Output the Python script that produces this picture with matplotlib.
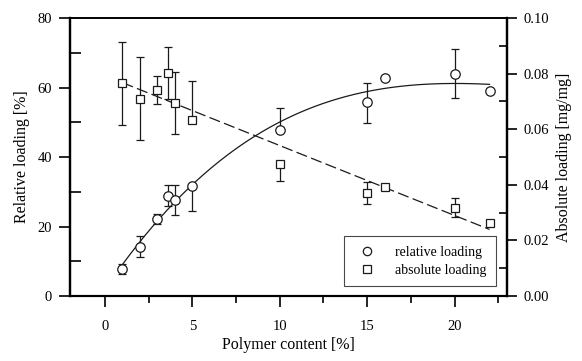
import numpy as np
import matplotlib
matplotlib.use("Agg")
import matplotlib.pyplot as plt
from matplotlib.ticker import MultipleLocator, FormatStrFormatter
from matplotlib.lines import Line2D

plt.rcParams['font.family'] = ['Liberation Serif', 'DejaVu Serif']

# Relative loading (left axis, %)
rel_x = [1, 2, 3, 3.6, 4, 5, 10, 15, 16, 20, 22]
rel_y = [7.7, 14.2, 22.1, 28.8, 27.6, 31.6, 47.9, 55.7, 62.7, 63.9, 58.9]
rel_err_lo = [1.5, 3.0, 1.5, 3.0, 4.2, 7.0, 0.0, 5.8, 0.0, 7.0, 0.0]
rel_err_hi = [1.5, 3.0, 1.5, 3.2, 4.4, 0.0, 6.2, 5.7, 0.0, 7.1, 0.0]

# Absolute loading (right axis, mg/mg)
abs_x = [1, 2, 3, 3.6, 4, 5, 10, 15, 16, 20, 22]
abs_y = [0.0765, 0.0710, 0.0742, 0.0801, 0.0693, 0.0633, 0.0476, 0.0369, 0.0393, 0.0318, 0.0264]
abs_err_lo = [0.0150, 0.0150, 0.0053, 0.0094, 0.0112, 0.0, 0.0061, 0.0039, 0.0, 0.0035, 0.0]
abs_err_hi = [0.0150, 0.0151, 0.0050, 0.0093, 0.0112, 0.0142, 0.0, 0.0041, 0.0, 0.0036, 0.0]

legend_labels = ['relative loading', 'absolute loading']

fig = plt.figure(figsize=(5.82, 3.61), dpi=100)
ax = fig.add_axes([70/582, 1-296/361, (507-70)/582, (296-18)/361])
ax2 = ax.twinx()

ink = '#1a1a1a'

# fits
xf = np.linspace(min(rel_x), max(rel_x), 200)
prel = np.polyfit(rel_x, rel_y, 3)
ax.plot(xf, np.polyval(prel, xf), color=ink, lw=0.9, zorder=2)
pabs = np.polyfit(abs_x, abs_y, 1)
ax2.plot(xf, np.polyval(pabs, xf), color=ink, lw=0.9, ls=(0, (9, 3.5)), zorder=2)

ax.errorbar(rel_x, rel_y, yerr=[rel_err_lo, rel_err_hi], fmt='o', ms=6.8,
            mfc='white', mec=ink, mew=0.9, ecolor=ink, elinewidth=0.9,
            capsize=3.2, capthick=0.9, zorder=3)
ax2.errorbar(abs_x, abs_y, yerr=[abs_err_lo, abs_err_hi], fmt='s', ms=6.0,
             mfc='white', mec=ink, mew=0.9, ecolor=ink, elinewidth=0.9,
             capsize=3.2, capthick=0.9, zorder=3)

ax.set_xlim(-2, 23)
ax.set_ylim(0, 80)
ax2.set_ylim(0, 0.10)

ax.xaxis.set_major_locator(MultipleLocator(5))
ax.xaxis.set_minor_locator(MultipleLocator(2.5))
ax.yaxis.set_major_locator(MultipleLocator(20))
ax.yaxis.set_minor_locator(MultipleLocator(10))
ax2.yaxis.set_major_locator(MultipleLocator(0.02))
ax2.yaxis.set_minor_locator(MultipleLocator(0.01))
ax2.yaxis.set_major_formatter(FormatStrFormatter('%.2f'))

ax.tick_params(axis='x', which='major', direction='out', length=8, width=1.2, labelsize=10.5, pad=9)
ax.tick_params(axis='x', which='minor', direction='out', length=5, width=1.2)
ax.tick_params(axis='y', which='major', direction='out', length=8, width=1.2, labelsize=10.5, pad=5)
ax.tick_params(axis='y', which='minor', direction='in', length=8, width=1.2)
ax2.tick_params(axis='y', which='major', direction='out', length=7, width=1.2, labelsize=10.5, pad=5)
ax2.tick_params(axis='y', which='minor', direction='in', length=6, width=1.2)

for a in (ax, ax2):
    a.spines['left'].set_linewidth(1.6)
    a.spines['right'].set_linewidth(1.6)
    a.spines['bottom'].set_linewidth(1.5)
    a.spines['top'].set_linewidth(1.2)

ax.set_xlabel('Polymer content [%]', fontsize=11.5, labelpad=3)
ax.set_ylabel('Relative loading [%]', fontsize=11.5, labelpad=5)
ax2.set_ylabel('Absolute loading [mg/mg]', fontsize=11.5, labelpad=5)

handles = [Line2D([], [], marker='o', ls='none', ms=6, mfc='white', mec=ink, mew=0.9),
           Line2D([], [], marker='s', ls='none', ms=5.5, mfc='white', mec=ink, mew=0.9)]
leg = ax2.legend(handles, legend_labels, loc='lower right',
                 bbox_to_anchor=(0.975, 0.035), frameon=True, fancybox=False,
                 edgecolor=ink, fontsize=10, borderpad=0.7, handletextpad=1.0,
                 handlelength=2.0, labelspacing=0.35, borderaxespad=0)
leg.get_frame().set_linewidth(0.8)

fig.savefig('out.png', dpi=100)
